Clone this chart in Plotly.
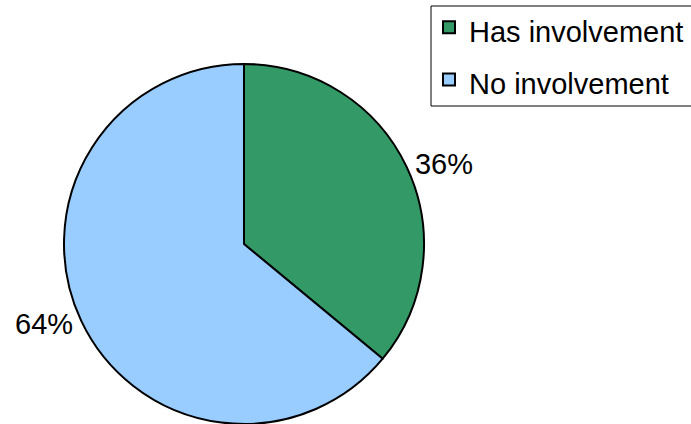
import plotly.graph_objects as go

labels = ["Has involvement", "No involvement"]
values = [36, 64]
colors = ["#339966", "#99CCFF"]

W, H = 691, 424
font_family = "Liberation Sans, Arial, sans-serif"

legend_labels = [f"<span style='font-size:29px'>{l}</span>" for l in labels]

fig = go.Figure(go.Pie(
    labels=legend_labels,
    values=values,
    sort=False,
    direction="clockwise",
    rotation=0,
    marker=dict(colors=colors, line=dict(color="black", width=2)),
    textinfo="percent",
    texttemplate="%{percent:.0%}",
    textposition="outside",
    outsidetextfont=dict(size=29, color="black", family=font_family),
    domain=dict(x=[64 / W, 424 / W], y=[0, (H - 64) / H]),
    hoverinfo="skip",
))

fig.update_layout(
    width=W, height=H,
    margin=dict(l=0, r=0, t=0, b=0, autoexpand=False),
    paper_bgcolor="white",
    plot_bgcolor="white",
    font=dict(family=font_family, color="black"),
    showlegend=True,
    legend=dict(
        x=429 / W, y=1 + 4 / H, xanchor="left", yanchor="top",
        borderwidth=0,
        font=dict(size=38, color="black", family=font_family),
        bgcolor="rgba(0,0,0,0)",
    ),
    shapes=[dict(
        type="rect", xref="paper", yref="paper",
        x0=431 / W, x1=1.05, y0=1 - 106 / H, y1=1 - 6 / H,
        line=dict(color="black", width=1), fillcolor="rgba(0,0,0,0)",
        layer="below",
    )],
)

fig.write_html(
    "out.html",
    config={"displayModeBar": False},
    post_script="document.body.style.margin='0';document.body.style.padding='0';document.body.style.overflow='hidden';",
)
